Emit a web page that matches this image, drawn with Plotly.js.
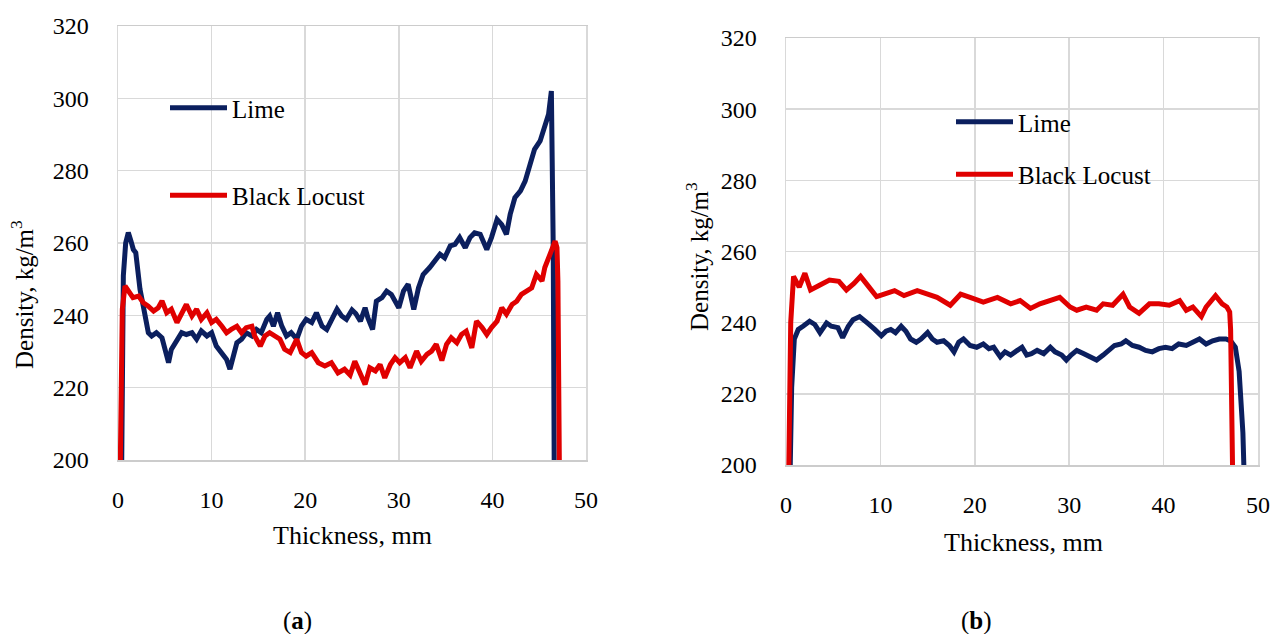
<!DOCTYPE html>
<html>
<head>
<meta charset="utf-8">
<script src="https://cdn.plot.ly/plotly-3.0.1.min.js"></script>
<style>html,body{margin:0;padding:0;background:#fff;}#chart{width:1274px;height:634px;}</style>
</head>
<body>
<div id="chart"></div>
<script>
// ---- Data ----
const seriesNames = ["Lime", "Black Locust"];
const xTickVals = [0, 10, 20, 30, 40, 50];
const yTickVals = [200, 220, 240, 260, 280, 300, 320];

// Panel (a) – Lime
const limeA_x = [0.4, 0.57, 0.82, 1.1, 1.39, 1.64, 1.9, 2.1, 2.35, 2.7, 3.0, 3.24, 3.6, 4.1, 4.7, 5.0, 5.4, 5.7, 6.3, 6.8,
  7.3, 7.9, 8.4, 8.9, 9.5, 10.0, 10.5, 11.1, 11.6, 11.96, 12.3, 12.7, 13.2, 13.7, 14.3, 14.8, 15.3, 15.9, 16.2, 16.6,
  17.05, 17.5, 18.0, 18.5, 19.1, 19.6, 20.1, 20.7, 21.2, 21.8, 22.3, 22.8, 23.4, 23.9, 24.4, 25.0, 25.4, 25.9, 26.4, 26.7,
  27.2, 27.6, 28.2, 28.7, 29.2, 30.0, 30.5, 31.0, 31.6, 32.1, 32.6, 33.3, 33.9, 34.4, 34.9, 35.5, 36.0, 36.5, 37.1, 37.6,
  38.1, 38.7, 39.4, 39.9, 40.5, 41.0, 41.5, 41.9, 42.4, 43.0, 43.5, 44.0, 44.5, 45.1, 45.6, 46.0, 46.3, 46.5, 46.6];
const limeA_y = [200, 250.9, 260, 262.9, 260.5, 258.2, 257.3, 252.7, 247.2, 242.6, 238, 235.2, 234.3, 235.2, 233.8, 230.6, 226.9, 230.6, 233.4, 235.2,
  234.7, 235.2, 233.4, 235.7, 234.3, 235.2, 231.5, 229.7, 227.8, 225.1, 228.7, 232.4, 233.4, 235.2, 234.3, 236.1, 235.2, 238.9, 239.8, 237,
  240.7, 237, 234.3, 235.2, 233.4, 237, 238.9, 238, 240.7, 237, 236.1, 238.9, 241.7, 239.8, 238.9, 241.5, 240.5, 238.4, 242.1, 239.3,
  236.1, 243.9, 244.9, 246.7, 245.8, 242.1, 246.7, 248.6, 241.6, 247.6, 251.3, 253.2, 255, 256.9, 255.9, 259.2, 259.6, 261.5, 258.7, 261.5,
  262.8, 262.4, 258.2, 261.5, 266.5, 265.1, 262.4, 267.9, 272.5, 274.4, 277.1, 281.7, 285.9, 288.2, 291.9, 295.6, 302, 258.7, 200];

// Panel (a) – Black Locust
const locustA_x = [0.25, 0.46, 0.75, 1.1, 1.6, 2.2, 2.7, 3.2, 3.8, 4.3, 4.7, 5.2, 5.7, 6.3, 6.8, 7.3, 7.9, 8.4, 8.9, 9.5,
  10.0, 10.5, 11.1, 11.6, 12.1, 12.7, 13.2, 13.7, 14.3, 14.6, 15.2, 15.7, 16.2, 16.8, 17.3, 17.8, 18.4, 19.1, 19.6, 20.1,
  20.7, 21.4, 22.1, 22.8, 23.5, 24.2, 24.8, 25.3, 25.9, 26.4, 26.9, 27.5, 28.0, 28.5, 29.1, 29.6, 30.1, 30.7, 31.2, 31.9,
  32.4, 33.0, 33.5, 34.0, 34.6, 35.1, 35.6, 36.2, 36.7, 37.2, 37.8, 38.3, 38.9, 39.4, 39.9, 40.5, 41.0, 41.5, 42.1, 42.6,
  43.1, 43.7, 44.2, 44.7, 45.3, 45.6, 46.0, 46.3, 46.7, 46.9, 47.0, 47.15];
const locustA_y = [200, 241.7, 248.1, 246.7, 244.9, 245.3, 243.5, 242.6, 241.2, 242.1, 244, 240.7, 241.7, 238, 240.7, 243, 239.8, 241.7, 238.9, 240.7,
  238, 238.9, 237, 235.2, 236.1, 237, 235.2, 236.6, 237, 234.3, 231.5, 234.3, 235.2, 234.3, 233.4, 230.6, 229.7, 233.4, 229.7, 228.7,
  229.7, 226.9, 226, 226.9, 224.1, 225.1, 223.5, 227.3, 223.7, 220.9, 225.5, 224.6, 226.4, 222.7, 226.4, 228.3, 226.9, 228.3, 225.5, 230.1,
  227.3, 229.2, 230.1, 232, 227.5, 232, 233.8, 232.4, 234.7, 235.6, 231, 238.4, 236.6, 234.7, 236.6, 238.4, 242.1, 240.3, 243, 243.9,
  245.8, 246.7, 247.6, 251.3, 249.5, 253.2, 255.9, 257.8, 260.5, 258.7, 249.5, 200];

// Panel (b) – Lime
const limeB_x = [0.45, 0.6, 0.88, 1.3, 1.8, 2.5, 3.05, 3.6, 4.3, 4.8, 5.5, 6.0, 6.6, 7.1, 7.8, 8.3, 8.8, 9.4, 10.1, 10.6,
  11.1, 11.6, 12.2, 12.7, 13.2, 13.8, 14.3, 15.0, 15.5, 16.0, 16.7, 17.3, 17.8, 18.3, 18.8, 19.5, 20.2, 20.9, 21.5, 22.0,
  22.7, 23.2, 23.8, 24.5, 25.0, 25.5, 26.0, 26.6, 27.3, 28.0, 28.5, 29.2, 29.7, 30.2, 30.8, 31.5, 32.2, 32.9, 33.6, 34.1,
  34.8, 35.5, 36.0, 36.7, 37.4, 38.1, 38.8, 39.5, 40.2, 40.9, 41.6, 42.4, 43.1, 43.8, 44.5, 45.2, 45.9, 46.6, 47.1, 47.6,
  48.0, 48.2, 48.4, 48.5];
const limeB_y = [200, 221.8, 235.4, 238.1, 239, 240.4, 239.5, 237.2, 239.9, 239, 238.6, 235.8, 239, 240.8, 241.7, 240.4, 239.5, 238.1, 236.3, 237.6,
  238.1, 237.2, 239, 237.6, 235.4, 234.5, 235.4, 237.2, 235.4, 234.5, 234.9, 233.6, 231.8, 234.5, 235.4, 233.6, 233.1, 234, 232.7, 233.1,
  230.4, 231.8, 230.9, 232.2, 233.1, 230.9, 231.3, 232.2, 231.3, 233.1, 231.8, 230.9, 229.5, 230.9, 232.2, 231.3, 230.4, 229.5, 230.9, 232.2,
  233.6, 234, 234.9, 233.6, 233.1, 232.2, 231.8, 232.7, 233.1, 232.7, 234, 233.6, 234.5, 235.4, 234, 234.9, 235.4, 235.4, 234.9, 233.1,
  226.3, 219.1, 209, 200];

// Panel (b) – Black Locust
const locustB_x = [0.3, 0.5, 0.8, 1.4, 2.0, 2.6, 3.6, 4.6, 5.6, 6.4, 7.2, 7.9, 8.8, 9.6, 10.4, 11.5, 12.5, 13.9, 15.0, 16.0,
  17.4, 18.5, 19.5, 20.9, 22.4, 23.8, 24.8, 25.9, 26.9, 28.0, 29.0, 30.1, 30.8, 31.8, 32.9, 33.6, 34.6, 35.7, 36.4, 37.4,
  38.5, 39.5, 40.6, 41.7, 42.4, 43.1, 44.0, 44.5, 45.5, 46.2, 46.7, 47.0, 47.1, 47.3];
const locustB_y = [200, 240, 253, 250, 253.9, 249.2, 250.6, 252, 251.6, 249.2, 251, 253, 250, 247.3, 248, 249, 247.6, 249, 248, 247.1,
  244.9, 248, 247.1, 245.8, 247.1, 245.3, 246.2, 244, 245.3, 246.2, 247.1, 244.4, 243.5, 244.4, 243.5, 245.3, 244.9, 248, 244.4, 242.6,
  245.3, 245.3, 244.9, 246.2, 243.5, 244.4, 241.7, 244.4, 247.6, 245.3, 244.4, 243, 238, 200];

// ---- Styling ----
const FONT = "'Liberation Serif', 'Times New Roman', serif";
const LIME_COLOR = "#0b1f5e";
const LOCUST_COLOR = "#e00000";
const W = 1274, H = 634;
const px = v => v / W;
const py = v => 1 - v / H;

const traces = [
  {x: limeA_x, y: limeA_y, name: seriesNames[0], xaxis: "x", yaxis: "y", legend: "legend", legendgroup: "a1",
   mode: "lines", line: {color: LIME_COLOR, width: 5}},
  {x: locustA_x, y: locustA_y, name: seriesNames[1], xaxis: "x", yaxis: "y", legend: "legend", legendgroup: "a2",
   mode: "lines", line: {color: LOCUST_COLOR, width: 5}},
  {x: limeB_x, y: limeB_y, name: seriesNames[0], xaxis: "x2", yaxis: "y2", legend: "legend2", legendgroup: "b1",
   mode: "lines", line: {color: LIME_COLOR, width: 5}},
  {x: locustB_x, y: locustB_y, name: seriesNames[1], xaxis: "x2", yaxis: "y2", legend: "legend2", legendgroup: "b2",
   mode: "lines", line: {color: LOCUST_COLOR, width: 5}}
];

function xAxis(domain) {
  return {
    domain: domain, range: [0, 50], tickvals: xTickVals, ticktext: xTickVals.map(String),
    showgrid: true, gridcolor: "#d9d9d9", gridwidth: 1.5, zeroline: false,
    showline: true, linecolor: "#cccccc", linewidth: 1.5, mirror: true,
    ticks: "", ticklabelstandoff: 18,
    tickfont: {family: FONT, size: 24, color: "#000"}, fixedrange: true
  };
}
function yAxis(domain, anchor) {
  return {
    domain: domain, range: [200, 320], tickvals: yTickVals, ticktext: yTickVals.map(String),
    anchor: anchor,
    showgrid: true, gridcolor: "#d9d9d9", gridwidth: 1.5, zeroline: false,
    showline: true, linecolor: "#d9d9d9", linewidth: 1.5, mirror: true,
    ticks: "", ticklabelstandoff: 23,
    tickfont: {family: FONT, size: 24, color: "#000"}, fixedrange: true
  };
}
function legendAt(xPix, yPix, gap) {
  return {
    x: px(xPix), y: py(yPix), xanchor: "left", yanchor: "top",
    bgcolor: "rgba(0,0,0,0)", borderwidth: 0,
    font: {family: FONT, size: 25, color: "#000"},
    traceorder: "grouped", tracegroupgap: gap, itemwidth: 57
  };
}

const layout = {
  width: W, height: H,
  margin: {l: 0, r: 0, t: 0, b: 0},
  paper_bgcolor: "#fff", plot_bgcolor: "#fff",
  font: {family: FONT, color: "#000"},
  showlegend: true,
  xaxis: Object.assign(xAxis([px(118), px(586)]), {anchor: "y"}),
  yaxis: yAxis([py(460), py(26)], "x"),
  xaxis2: Object.assign(xAxis([px(786), px(1258)]), {anchor: "y2"}),
  yaxis2: yAxis([py(465), py(38)], "x2"),
  legend: legendAt(165, 85, 52),
  legend2: legendAt(951, 99, 17),
  annotations: [
    {text: "Density, kg/m<sup>3</sup>", textangle: -90, xref: "paper", yref: "paper",
     x: px(22), y: py(295), xanchor: "center", yanchor: "middle", showarrow: false,
     font: {family: FONT, size: 25, color: "#000"}},
    {text: "Density, kg/m<sup>3</sup>", textangle: -90, xref: "paper", yref: "paper",
     x: px(697), y: py(257), xanchor: "center", yanchor: "middle", showarrow: false,
     font: {family: FONT, size: 25, color: "#000"}},
    {text: "Thickness, mm", xref: "paper", yref: "paper",
     x: px(352), y: py(535), xanchor: "center", yanchor: "middle", showarrow: false,
     font: {family: FONT, size: 26, color: "#000"}},
    {text: "Thickness, mm", xref: "paper", yref: "paper",
     x: px(1023), y: py(542), xanchor: "center", yanchor: "middle", showarrow: false,
     font: {family: FONT, size: 26, color: "#000"}},
    {text: "(<b>a</b>)", xref: "paper", yref: "paper",
     x: px(297), y: py(621), xanchor: "center", yanchor: "middle", showarrow: false,
     font: {family: FONT, size: 25, color: "#000"}},
    {text: "(<b>b</b>)", xref: "paper", yref: "paper",
     x: px(976), y: py(621), xanchor: "center", yanchor: "middle", showarrow: false,
     font: {family: FONT, size: 25, color: "#000"}}
  ]
};

Plotly.newPlot("chart", traces, layout, {displayModeBar: false, staticPlot: true});
</script>
</body>
</html>
